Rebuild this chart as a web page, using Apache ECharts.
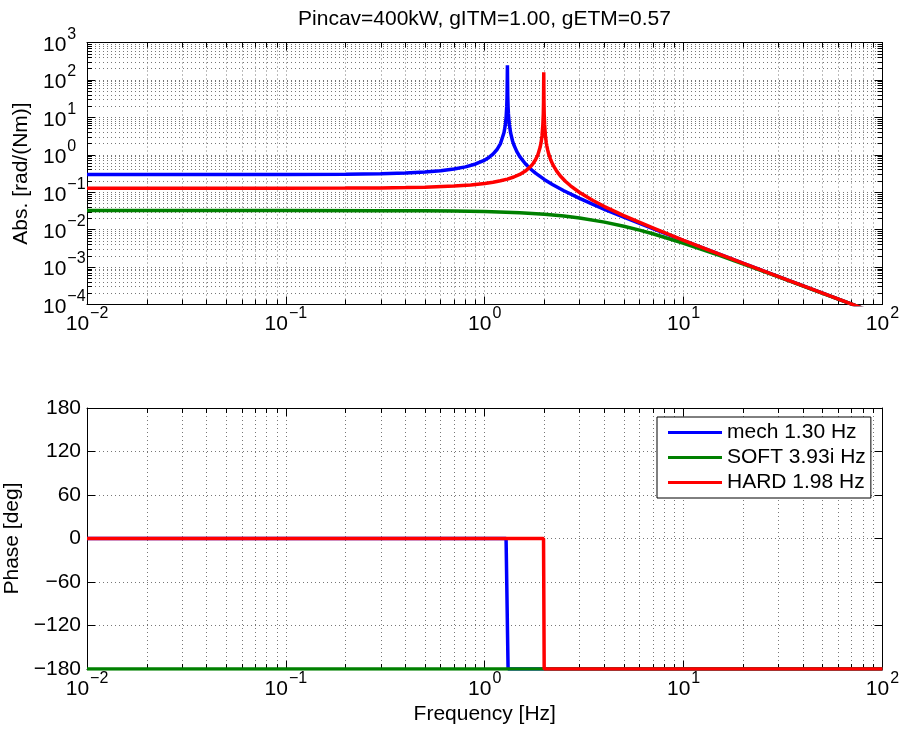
<!DOCTYPE html>
<html><head><meta charset="utf-8">
<script src="https://cdn.jsdelivr.net/npm/echarts@6/dist/echarts.min.js"></script>
<style>html,body{margin:0;padding:0;background:#fff}#c{width:903px;height:736px}</style>
</head><body><div id="c"></div>
<script>
// ---------------- data ----------------
const titleText = 'Pincav=400kW, gITM=1.00, gETM=0.57';
const seriesNames = ['mech 1.30 Hz', 'SOFT 3.93i Hz', 'HARD 1.98 Hz'];
const seriesColors = ['#0000ff', '#008000', '#ff0000'];

const freqTicks = [0.01, 0.1, 1, 10, 100];
const magTicks = [1e-4, 1e-3, 1e-2, 1e-1, 1, 10, 100, 1000];
const phaseTicks = [-180, -120, -60, 0, 60, 120, 180];

const mechFreq = [0.01, 0.03, 0.1, 0.2, 0.3, 0.4, 0.5, 0.6, 0.7, 0.8,
  0.9, 1.0, 1.05, 1.1, 1.15, 1.2, 1.25, 1.27, 1.28, 1.29,
  1.295, 1.2985, 1.30, 1.3015, 1.305, 1.31, 1.315, 1.32, 1.33, 1.35,
  1.38, 1.4, 1.45, 1.5, 1.6, 1.7, 1.8, 2.0, 2.2, 2.5,
  3, 3.5, 4, 5, 7, 10, 15, 20, 30, 50,
  70, 100];
const mechMag = [0.2959, 0.2960, 0.2976, 0.3030, 0.3125, 0.3268, 0.3472, 0.3759, 0.4167, 0.4762,
  0.5682, 0.7246, 0.8511, 1.0417, 1.3605, 2.0, 3.922, 6.485, 9.69, 19.3,
  38.5, 128, 245, 128, 38.4, 19.2, 12.75, 9.54, 6.337, 3.774,
  2.332, 1.852, 1.212, 0.8929, 0.5747, 0.4167, 0.3226, 0.2165, 0.1587, 0.1096,
  0.0684, 0.04735, 0.03494, 0.02145, 0.01057, 0.005086, 0.002239, 0.001255, 0.0005566, 0.0002001,
  0.0001021, 0.00005001];

const softFreq = [0.01, 0.1, 0.3, 0.5, 0.7, 1.0, 1.5, 2, 2.5, 3, 4, 5, 6, 7, 10, 15, 20, 30, 50, 70, 100];
const softMag = [0.03237, 0.03235, 0.03219, 0.03186, 0.03138, 0.03040, 0.02826, 0.02571, 0.02305, 0.02045,
  0.01590, 0.01236, 0.00972, 0.007759, 0.004331, 0.002080, 0.001204, 0.0005462, 0.0001988, 0.0001017, 0.00004992];

const hardFreq = [0.01, 0.1, 0.2, 0.3, 0.4, 0.5, 0.7, 0.85, 1.0, 1.1,
  1.2, 1.3, 1.4, 1.5, 1.6, 1.7, 1.75, 1.8, 1.85, 1.9,
  1.92, 1.94, 1.96, 1.97, 1.975, 1.978, 1.98, 1.982, 1.985, 1.99,
  2.0, 2.02, 2.04, 2.05, 2.07, 2.1, 2.15, 2.2, 2.3, 2.4,
  2.55, 2.7, 3, 3.5, 4, 5, 7, 10, 15, 20,
  30, 50, 70, 100];
const hardMag = [0.1275, 0.1279, 0.1289, 0.1305, 0.1330, 0.1362, 0.1458, 0.1564, 0.1712, 0.1845,
  0.2016, 0.2242, 0.2550, 0.2993, 0.3675, 0.4852, 0.5828, 0.7349, 1.004, 1.611,
  2.137, 3.189, 6.345, 12.66, 25.28, 63.2, 160, 63.1, 25.2, 12.59,
  6.281, 3.125, 2.073, 1.772, 1.372, 1.021, 0.7121, 0.5437, 0.3651, 0.2718,
  0.1936, 0.1484, 0.09843, 0.06003, 0.04139, 0.02372, 0.01109, 0.005204, 0.002262, 0.001262,
  0.000558, 0.0002003, 0.0001021, 0.00005002];

const mechPhaseFreq = [0.01, 1.28, 1.31, 100];
const mechPhase = [0, 0, -180, -180];
const softPhaseFreq = [0.01, 100];
const softPhase = [-180, -180];
const hardPhaseFreq = [0.01, 1.975, 1.99, 100];
const hardPhase = [0, 0, -180, -180];

// ---------------- helpers ----------------
function minorLog(lo, hi) {
  const out = [];
  for (let e = lo; e < hi; e++) for (let m = 2; m <= 9; m++) out.push(+(m * Math.pow(10, e)).toPrecision(3));
  return out;
}
const freqMinor = minorLog(-2, 2);
const magMinor = minorLog(-4, 3);

const FONT = '"Liberation Sans", Arial, Helvetica, sans-serif';
const pairs = (xs, ys) => xs.map((x, i) => [x, ys[i]]);
const supLabel = v => {
  const e = Math.round(Math.log10(v));
  return '{b|10}{e|' + (e < 0 ? '\u2212' + (-e) : e) + '}';
};
const rich = {
  b: { fontSize: 21, lineHeight: 21, padding: [8, 0, 3, 0], color: '#000', fontFamily: FONT },
  e: { fontSize: 16, lineHeight: 16, padding: [0, 0, 16, 1], color: '#000', fontFamily: FONT }
};
const dotted = { show: true, lineStyle: { color: '#777', width: 1, type: [1, 3] } };

function axis(type, gridIndex, position, min, max, o) {
  const a = {
    type: type, gridIndex: gridIndex, position: position, min: min, max: max,
    axisLine: { show: !!o.line, onZero: false, lineStyle: { color: '#000', width: 1 } },
    axisTick: { show: true, inside: true, length: o.len, lineStyle: { color: '#000', width: 1 } },
    axisLabel: o.label || { show: false },
    splitLine: o.split ? dotted : { show: false },
    minorTick: { show: false }, minorSplitLine: { show: false },
    axisPointer: { show: false }, silent: true
  };
  if (type === 'log') { a.logBase = 10; }
  if (o.ticks) a.axisTick.customValues = o.ticks;
  if (o.interval) a.interval = o.interval;
  if (o.splitNumber) a.splitNumber = o.splitNumber;
  if (o.name) Object.assign(a, o.name);
  return a;
}

const xLabel = {
  show: true, customValues: freqTicks, formatter: supLabel, rich: rich, margin: 7,
  hideOverlap: false, showMinLabel: true, showMaxLabel: true
};
const yLogLabel = {
  show: true, customValues: magTicks, formatter: supLabel, rich: rich, margin: 44, align: 'left',
  hideOverlap: false, showMinLabel: true, showMaxLabel: true
};
const yLinLabel = {
  show: true, formatter: v => (v < 0 ? '\u2212' + (-v) : '' + v), margin: 6,
  fontSize: 21, color: '#000', fontFamily: FONT, showMinLabel: true, showMaxLabel: true
};
const nameStyle = { fontSize: 21, color: '#000', fontFamily: FONT };

const xAxes = [];
const yAxes = [];
[0, 1].forEach(g => {
  xAxes.push(axis('log', g, 'bottom', 0.01, 100, {
    line: true, len: 8, ticks: freqTicks, split: true, splitNumber: 4, label: xLabel,
    name: g === 1 ? { name: 'Frequency [Hz]', nameLocation: 'middle', nameGap: 30, nameTextStyle: nameStyle } : null
  }));
  xAxes.push(axis('log', g, 'bottom', 0.01, 100, { len: 5, ticks: freqMinor, split: true }));
  xAxes.push(axis('log', g, 'top', 0.01, 100, { line: true, len: 8, ticks: freqTicks, splitNumber: 4 }));
  xAxes.push(axis('log', g, 'top', 0.01, 100, { len: 5, ticks: freqMinor }));
});
// top grid y axes (0..3)
yAxes.push(axis('log', 0, 'left', 1e-4, 1e3, {
  line: true, len: 8, ticks: magTicks, split: true, splitNumber: 7, label: yLogLabel,
  name: { name: 'Abs. [rad/(Nm)]', nameLocation: 'middle', nameGap: 52, nameTextStyle: nameStyle }
}));
yAxes.push(axis('log', 0, 'left', 1e-4, 1e3, { len: 5, ticks: magMinor, split: true }));
yAxes.push(axis('log', 0, 'right', 1e-4, 1e3, { line: true, len: 8, ticks: magTicks, splitNumber: 7 }));
yAxes.push(axis('log', 0, 'right', 1e-4, 1e3, { len: 5, ticks: magMinor }));
// bottom grid y axes (4..5)
yAxes.push(axis('value', 1, 'left', -180, 180, {
  line: true, len: 8, interval: 60, split: true, label: yLinLabel,
  name: { name: 'Phase [deg]', nameLocation: 'middle', nameGap: 61, nameTextStyle: nameStyle }
}));
yAxes.push(axis('value', 1, 'right', -180, 180, { line: true, len: 8, interval: 60 }));

function line(name, color, xi, yi, data) {
  return {
    type: 'line', name: name, xAxisIndex: xi, yAxisIndex: yi, data: data,
    showSymbol: false, symbol: 'none', smooth: false, clip: true,
    lineStyle: { color: color, width: 3.5 }, itemStyle: { color: color },
    emphasis: { disabled: true }, z: 3
  };
}

const series = [
  line(seriesNames[0], seriesColors[0], 0, 0, pairs(mechFreq, mechMag)),
  line(seriesNames[1], seriesColors[1], 0, 0, pairs(softFreq, softMag)),
  line(seriesNames[2], seriesColors[2], 0, 0, pairs(hardFreq, hardMag)),
  line(seriesNames[0], seriesColors[0], 4, 4, pairs(mechPhaseFreq, mechPhase)),
  line(seriesNames[1], seriesColors[1], 4, 4, pairs(softPhaseFreq, softPhase)),
  line(seriesNames[2], seriesColors[2], 4, 4, pairs(hardPhaseFreq, hardPhase))
];

const chart = echarts.init(document.getElementById('c'), null, { renderer: 'canvas' });
chart.setOption({
  animation: false,
  backgroundColor: '#fff',
  textStyle: { fontFamily: FONT, color: '#000' },
  grid: [
    { left: 87, top: 42.5, width: 795.5, height: 262, containLabel: false, outerBoundsMode: 'none' },
    { left: 87, top: 408, width: 795.5, height: 261, containLabel: false, outerBoundsMode: 'none' }
  ],
  xAxis: xAxes,
  yAxis: yAxes,
  legend: {
    show: true, orient: 'vertical', left: 657, top: 417,
    data: seriesNames, icon: 'rect', itemWidth: 54, itemHeight: 3, itemGap: 4,
    padding: [5, 5, 5, 11], backgroundColor: '#fff', borderColor: '#000', borderWidth: 1, borderRadius: 0,
    textStyle: { fontSize: 21, lineHeight: 21, color: '#000', fontFamily: FONT },
    selectedMode: false, z: 10
  },
  graphic: [{
    type: 'text', x: 484.5, y: 19, z: 10,
    style: { text: titleText, fontSize: 21, fontFamily: FONT, fill: '#000', textAlign: 'center', textVerticalAlign: 'middle' }
  }],
  series: series
});
</script></body></html>
